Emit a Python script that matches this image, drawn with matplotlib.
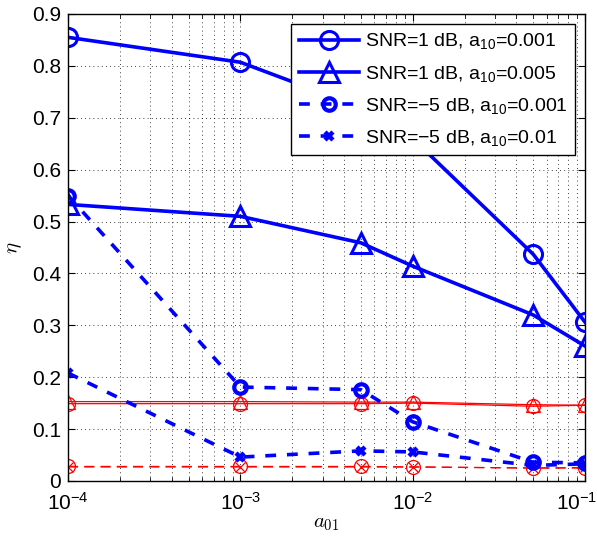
import matplotlib
matplotlib.use("Agg")
import matplotlib.pyplot as plt
import matplotlib.transforms as mtransforms
from matplotlib.ticker import LogLocator, NullFormatter

plt.rcParams['font.family'] = ['Liberation Sans', 'DejaVu Sans']
plt.rcParams['mathtext.fontset'] = 'cm'

a01 = [1e-4, 1e-3, 5e-3, 1e-2, 5e-2, 1e-1]

# blue curves
snr1_a001 = [0.855, 0.807, 0.72, 0.66, 0.437, 0.306]
snr1_a005 = [0.533, 0.510, 0.459, 0.414, 0.320, 0.260]
snrm5_a001 = [0.550, 0.181, 0.176, 0.114, 0.036, 0.035]
snrm5_a01 = [0.208, 0.046, 0.058, 0.056, 0.030, 0.033]

# red reference curves
red_tri = [0.153, 0.153, 0.152, 0.152, 0.147, 0.146]
red_circ = [0.149, 0.149, 0.149, 0.150, 0.144, 0.146]
red_dash_circ = [0.028, 0.028, 0.028, 0.027, 0.025, 0.025]
red_dash_x = [0.027, 0.027, 0.027, 0.027, 0.025, 0.026]

labels = ["SNR=1 dB, a$\\mathregular{_{10}}$=0.001", "SNR=1 dB, a$\\mathregular{_{10}}$=0.005",
          "SNR=\u22125 dB, a$\\mathregular{_{10}}$=0.001", "SNR=\u22125 dB, a$\\mathregular{_{10}}$=0.01"]
xtick_vals = [1e-4, 1e-3, 1e-2, 1e-1]
xtick_labels = ['$\\mathregular{10^{-4}}$', '$\\mathregular{10^{-3}}$',
                '$\\mathregular{10^{-2}}$', '$\\mathregular{10^{-1}}$']
ytick_vals = [0, 0.1, 0.2, 0.3, 0.4, 0.5, 0.6, 0.7, 0.8, 0.9]
ytick_labels = ['0', '0.1', '0.2', '0.3', '0.4', '0.5', '0.6', '0.7', '0.8', '0.9']

fig = plt.figure(figsize=(5.97, 5.38), dpi=100)
ax = fig.add_axes([0.114, 0.106, 0.866, 0.868])

blue = '#0000ff'
red = '#ff0000'

ax.plot(a01, red_tri, '-', color=red, lw=0.9, marker='^', ms=10, mfc='none', mew=0.9)
ax.plot(a01, red_circ, '-', color=red, lw=0.9, marker='o', ms=10, mfc='none', mew=0.9)
ax.plot(a01, red_dash_circ, '--', color=red, lw=0.9, dashes=(8, 5), marker='o', ms=10, mfc='none', mew=0.9)
ax.plot(a01, red_dash_x, '--', color=red, lw=0.9, dashes=(8, 5), marker='x', ms=7, mew=0.9)

ax.plot(a01, snr1_a001, '-', color=blue, lw=2.6, marker='o', ms=13, mfc='none', mew=2.2, label=labels[0])
ax.plot(a01, snr1_a005, '-', color=blue, lw=2.6, marker='^', ms=14, mfc='none', mew=2.2, label=labels[1])
ax.plot(a01, snrm5_a001, '--', color=blue, lw=2.6, dashes=(3, 3), marker='o', ms=9, mfc='none', mew=3, label=labels[2])
ax.plot(a01, snrm5_a01, '--', color=blue, lw=2.6, dashes=(3, 3), marker='x', ms=6, mew=3.2, label=labels[3])

ax.set_xscale('log')
ax.set_xlim(1e-4, 1e-1)
ax.set_ylim(0, 0.9)
ax.set_xticks(xtick_vals)
ax.set_xticklabels(xtick_labels)
ax.xaxis.set_minor_locator(LogLocator(base=10, subs=range(2, 10), numticks=50))
ax.xaxis.set_minor_formatter(NullFormatter())
ax.set_yticks(ytick_vals)
ax.set_yticklabels(ytick_labels)

ax.grid(True, which='major', color='k', linestyle=(0, (1, 4)), lw=0.6)
ax.grid(True, which='minor', axis='x', color='k', linestyle=(0, (1, 4)), lw=0.6)
ax.tick_params(which='both', direction='in', top=True, right=True, labelsize=15)
ax.tick_params(axis='x', pad=8)
ax.tick_params(axis='y', pad=5)
ax.tick_params(which='major', length=5)
ax.tick_params(which='minor', length=3)
for s in ax.spines.values():
    s.set_linewidth(1.0)

# keep the last x label inside the figure, as in the reference
last = ax.get_xticklabels()[-1]
last.set_transform(last.get_transform() + mtransforms.ScaledTranslation(-8 / 100, 0, fig.dpi_scale_trans))

ax.set_xlabel('$a_{01}$', fontsize=15, labelpad=0)
ax.set_ylabel('$\\eta$', fontsize=15, labelpad=6)

leg = ax.legend(loc='upper right', fontsize=14, handlelength=3.1, borderaxespad=0.5,
                fancybox=False, edgecolor='k', framealpha=1, labelspacing=0.62,
                borderpad=0.4, handletextpad=0.3)
leg.get_frame().set_linewidth(1.0)

fig.savefig('out.png', dpi=100)
